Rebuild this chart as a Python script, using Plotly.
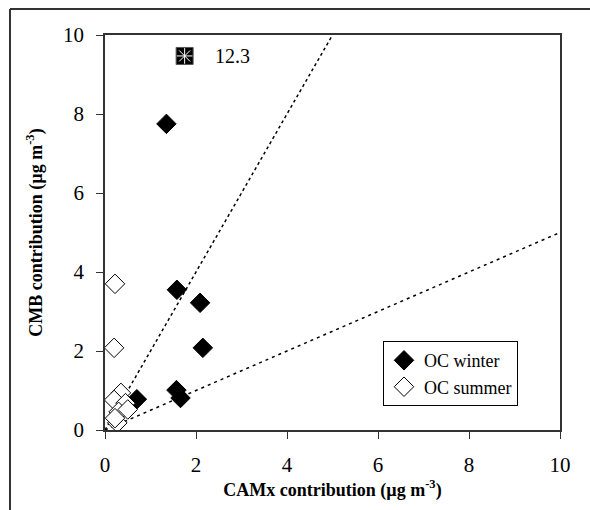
import plotly.graph_objects as go

# Data
winter_x = [1.35, 1.58, 2.09, 2.15, 0.70, 1.57, 1.66]
winter_y = [7.75, 3.55, 3.22, 2.08, 0.78, 1.01, 0.81]
summer_x = [0.22, 0.20, 0.35, 0.20, 0.45, 0.30, 0.50, 0.27, 0.22]
summer_y = [3.70, 2.08, 0.94, 0.76, 0.68, 0.46, 0.52, 0.18, 0.30]
outlier_x = [1.75]
outlier_y = [9.47]
outlier_label = "12.3"
line1_x = [0, 5]
line1_y = [0, 10]
line2_x = [0, 10]
line2_y = [0, 5]

serif = "Liberation Serif, Times New Roman, serif"

fig = go.Figure()
fig.add_trace(go.Scatter(x=line1_x, y=line1_y, mode="lines",
                         line=dict(color="black", width=1.5, dash="dot"),
                         showlegend=False, hoverinfo="skip"))
fig.add_trace(go.Scatter(x=line2_x, y=line2_y, mode="lines",
                         line=dict(color="black", width=1.5, dash="3px,4px"),
                         showlegend=False, hoverinfo="skip"))
fig.add_trace(go.Scatter(x=winter_x, y=winter_y, mode="markers", name="OC winter",
                         marker=dict(symbol="diamond", size=15, color="black",
                                     line=dict(color="black", width=1))))
fig.add_trace(go.Scatter(x=summer_x, y=summer_y, mode="markers", name="OC summer",
                         marker=dict(symbol="diamond", size=15, color="white",
                                     line=dict(color="black", width=1))))
fig.add_trace(go.Scatter(x=outlier_x, y=outlier_y, mode="markers", showlegend=False,
                         marker=dict(symbol="square", size=17, color="black",
                                     line=dict(color="#555", width=1))))
fig.add_trace(go.Scatter(x=outlier_x, y=outlier_y, mode="markers", showlegend=False,
                         marker=dict(symbol="asterisk-open", size=13, color="white",
                                     line=dict(color="white", width=1))))

fig.add_annotation(x=outlier_x[0] + 1.05, y=outlier_y[0], text=outlier_label,
                   showarrow=False, font=dict(family=serif, size=20, color="black"))

# outer frame (left and top visible)
fig.add_shape(type="line", xref="paper", yref="paper",
              x0=-0.2088, y0=1.0658, x1=1.2, y1=1.0658,
              line=dict(color="#333", width=2))
fig.add_shape(type="line", xref="paper", yref="paper",
              x0=-0.2088, y0=1.0658, x1=-0.2088, y1=-0.3,
              line=dict(color="#333", width=2))

fig.update_xaxes(range=[0, 10], tickvals=[0, 2, 4, 6, 8, 10],
                 showgrid=False, zeroline=False, showline=True, linecolor="#333",
                 linewidth=1.5, mirror=True, ticks="outside", ticklen=7, tickcolor="#333",
                 ticklabelstandoff=8,
                 tickfont=dict(family=serif, size=21, color="black"),
                 title=dict(text="<b>CAMx contribution (µg m<sup>-3</sup>)</b>",
                            font=dict(family=serif, size=18, color="black"), standoff=6))
fig.update_yaxes(range=[0, 10], tickvals=[0, 2, 4, 6, 8, 10],
                 showgrid=False, zeroline=False, showline=True, linecolor="#333",
                 linewidth=1.5, mirror=True, ticks="outside", ticklen=7, tickcolor="#333",
                 ticklabelstandoff=8,
                 tickfont=dict(family=serif, size=21, color="black"),
                 title=dict(text="<b>CMB contribution (µg m<sup>-3</sup>)</b>",
                            font=dict(family=serif, size=18, color="black"), standoff=16))

fig.update_layout(width=590, height=510,
                  margin=dict(l=105, r=30, t=35, b=80),
                  paper_bgcolor="white", plot_bgcolor="white",
                  legend=dict(x=0.611, y=0.225, xanchor="left", yanchor="top",
                              bordercolor="black", borderwidth=1, bgcolor="white",
                              font=dict(family=serif, size=18, color="black"),
                              itemwidth=30, tracegroupgap=0))

fig.write_html("out.html")
